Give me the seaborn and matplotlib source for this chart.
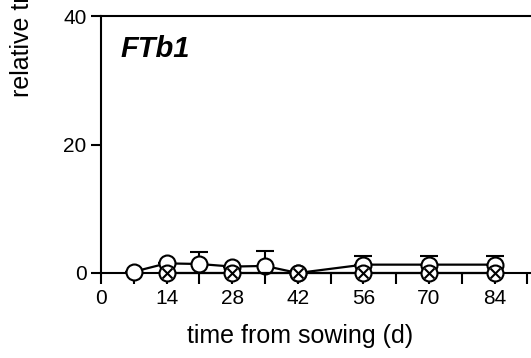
import matplotlib
matplotlib.use("Agg")
import matplotlib.pyplot as plt
import seaborn as sns
import pandas as pd

# values (transcript level vs. days from sowing)
days_open = [7, 14, 21, 28, 35, 42, 56, 70, 84]
mean_open = [0.2, 1.5, 1.4, 1.0, 1.1, 0.0, 1.3, 1.3, 1.3]
err_open = [0.0, 0.0, 1.9, 0.0, 2.4, 0.0, 1.35, 1.35, 1.35]

days_cross = [14, 28, 42, 56, 70, 84]
mean_cross = [0.0, 0.0, 0.0, 0.0, 0.0, 0.0]

x_major = [0, 14, 28, 42, 56, 70, 84]
y_major = [0, 20, 40]

sns.set_style("ticks")
plt.rcParams['font.family'] = ['Liberation Sans', 'DejaVu Sans']
plt.rcParams['text.color'] = 'black'
plt.rcParams['xtick.color'] = 'black'
plt.rcParams['ytick.color'] = 'black'
plt.rcParams['axes.labelcolor'] = 'black'

fig = plt.figure(figsize=(5.31, 3.58), dpi=100)
ax = fig.add_axes([101 / 531, 85 / 358, 444 / 531, 257 / 358])

df_open = pd.DataFrame({"day": days_open, "level": mean_open})
df_cross = pd.DataFrame({"day": days_cross, "level": mean_cross})

# upper-only error bars for the open-circle series
ax.errorbar(days_open, mean_open, yerr=[[0] * len(err_open), err_open],
            fmt="none", ecolor="black", elinewidth=1.5, capsize=6.5,
            capthick=1.5, zorder=3, clip_on=False)

mk = dict(marker="o", markersize=11.5, markerfacecolor="white",
          markeredgecolor="black", markeredgewidth=1.5, clip_on=False)
sns.lineplot(data=df_open, x="day", y="level", ax=ax, color="black",
             linewidth=1.6, zorder=4, **mk)
sns.lineplot(data=df_cross, x="day", y="level", ax=ax, color="black",
             linewidth=1.6, zorder=5, **mk)
ax.scatter(df_cross["day"], df_cross["level"], marker="x", s=50,
           color="black", linewidths=1.5, zorder=6, clip_on=False)

ax.set_xlim(0, 444 / 4.685)
ax.set_ylim(0, 40)
ax.set_xticks(x_major)
ax.set_xticks(list(range(7, 92, 14)), minor=True)
ax.set_yticks(y_major)
ax.tick_params(axis="both", which="both", direction="out", width=1.5,
               labelsize=15, color="black", labelcolor="black")
ax.tick_params(axis="x", which="both", length=8)
ax.tick_params(axis="y", which="major", length=7)

for side in ["left", "bottom", "top"]:
    ax.spines[side].set_linewidth(1.5)
    ax.spines[side].set_color("black")
ax.spines["right"].set_visible(False)

ax.set_xlabel("time from sowing (d)", fontsize=18, color="black")
ax.xaxis.set_label_coords(0.448, -0.198)
ax.set_ylabel("")
ax.text(0.045, 0.925, "FTb1", transform=ax.transAxes, fontsize=21,
        fontweight="bold", fontstyle="italic", va="top", ha="left",
        color="black")

# y label is cut off at the top edge, as in the reference
fig.text(22 / 531, 1 - 97 / 358, "relative transcript level", rotation=90,
         fontsize=18, ha="center", va="bottom", color="black")

fig.savefig("out.png", dpi=100)
